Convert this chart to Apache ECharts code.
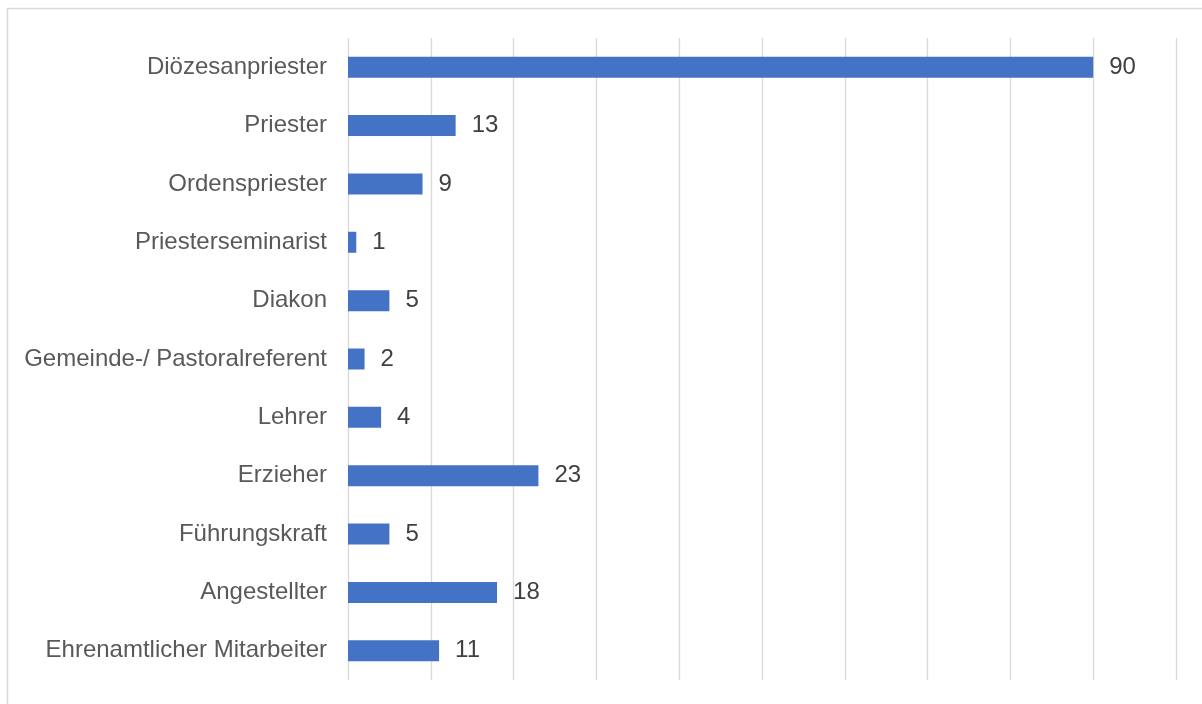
<!DOCTYPE html>
<html>
<head>
<meta charset="utf-8">
<script src="https://cdn.jsdelivr.net/npm/echarts@6/dist/echarts.min.js"></script>
<style>
html,body{margin:0;padding:0;background:#fff;}
#chart{width:1202px;height:704px;}
</style>
</head>
<body>
<div id="chart"></div>
<script>
const categories = [
  "Diözesanpriester",
  "Priester",
  "Ordenspriester",
  "Priesterseminarist",
  "Diakon",
  "Gemeinde-/ Pastoralreferent",
  "Lehrer",
  "Erzieher",
  "Führungskraft",
  "Angestellter",
  "Ehrenamtlicher Mitarbeiter"
];
const values = [90, 13, 9, 1, 5, 2, 4, 23, 5, 18, 11];

const chart = echarts.init(document.getElementById('chart'), null, {renderer: 'canvas'});
const font = '"Liberation Sans", Arial, sans-serif';
chart.setOption({
  animation: false,
  backgroundColor: '#fff',
  graphic: [{
    type: 'rect',
    shape: {x: 7.5, y: 8.5, width: 1400, height: 1000},
    style: {fill: 'none', stroke: '#d9d9d9', lineWidth: 1.5},
    silent: true
  }],
  grid: {left: 348, right: 26, top: 38, bottom: 24, containLabel: false},
  xAxis: {
    type: 'value',
    min: 0, max: 100, interval: 10,
    axisLabel: {show: false},
    axisLine: {show: false},
    axisTick: {show: false},
    splitLine: {show: true, lineStyle: {color: '#d9d9d9', width: 1.3}}
  },
  yAxis: {
    type: 'category',
    data: categories,
    inverse: true,
    axisLine: {show: false},
    axisTick: {show: false},
    axisLabel: {margin: 21, color: '#595959', fontSize: 24, fontFamily: font}
  },
  series: [{
    type: 'bar',
    data: values,
    barWidth: 21,
    itemStyle: {color: '#4472C4'},
    label: {show: true, position: 'right', distance: 16, color: '#404040', fontSize: 24, fontFamily: font}
  }]
});
</script>
</body>
</html>
